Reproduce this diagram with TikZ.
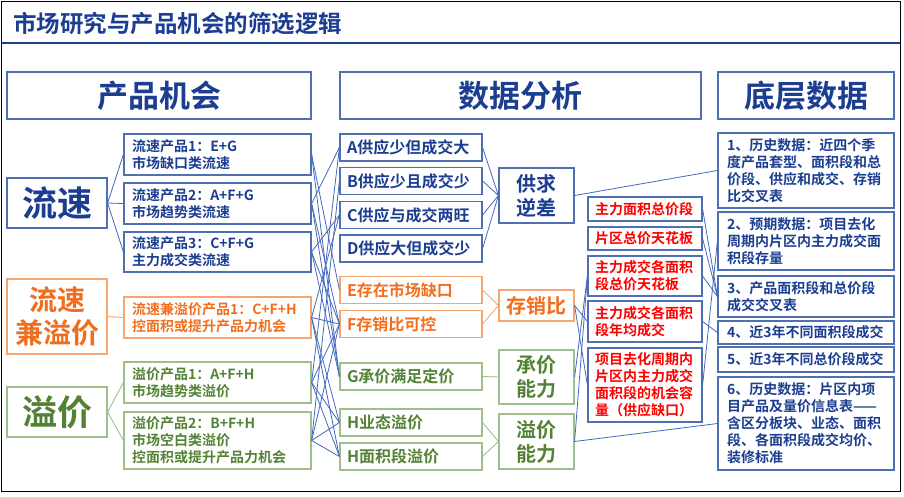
\documentclass[tikz,border=0pt]{standalone}
\usepackage{fontspec}
\setmainfont{Noto Sans CJK SC}[BoldFont={Noto Sans CJK SC Bold}]
\definecolor{dkblue}{RGB}{28,62,145}
\definecolor{boxblue}{RGB}{79,113,180}
\definecolor{lineblue}{RGB}{68,104,190}
\definecolor{orgT}{RGB}{240,110,30}
\definecolor{orgB}{RGB}{245,165,110}
\definecolor{grnT}{RGB}{84,130,53}
\definecolor{grnB}{RGB}{160,190,140}
\definecolor{redT}{RGB}{255,0,0}
\begin{document}
\begin{tikzpicture}[x=1pt,y=-1pt,
  base/.style={line width=1.2pt, inner ysep=0pt, font=\bfseries},
  wh/.style 2 args={minimum width=#1pt, minimum height=#2pt},
  hbox/.style={base, draw=boxblue, text=dkblue, inner xsep=0pt, font=\bfseries\fontsize{31}{34}\selectfont},
  bigblue/.style={base, draw=boxblue, text=dkblue, inner xsep=0pt, font=\bfseries\fontsize{35}{38}\selectfont},
  bigorg/.style={base, draw=orgB, text=orgT, inner xsep=0pt, align=center, font=\bfseries\fontsize{28}{33}\selectfont},
  biggrn/.style={base, draw=grnB, text=grnT, inner xsep=0pt, font=\bfseries\fontsize{35}{38}\selectfont},
  prod/.style={base, inner xsep=8pt, text width=171pt, align=left, font=\bfseries\fontsize{14}{17}\selectfont},
  letter/.style={base, inner xsep=7pt, text width=128pt, align=left, font=\bfseries\fontsize{16}{19}\selectfont},
  grp/.style={base, inner xsep=0pt, align=center, font=\bfseries\fontsize{20}{24}\selectfont},
  redbox/.style={base, draw=boxblue, text=redT, inner xsep=7pt, text width=100pt, align=left, font=\bfseries\fontsize{14}{17}\selectfont},
  datbox/.style={base, draw=boxblue, text=dkblue, inner xsep=9pt, text width=158pt, align=left, font=\bfseries\fontsize{14}{17}\selectfont},
  bl/.style={draw=lineblue, line width=0.8pt},
  ol/.style={draw=orgB, line width=0.9pt},
  gl/.style={draw=grnB, line width=0.9pt}
]
\useasboundingbox (0,0) rectangle (904,496);
\draw[black, line width=1pt] (1.5,1.5) rectangle (900.5,491);
\node[anchor=west, text=dkblue, inner sep=0pt, font=\bfseries\fontsize{23.5}{26}\selectfont] (title) at (13,24) {市场研究与产品机会的筛选逻辑};
\draw[dkblue, line width=2pt] (2,42.5) -- (900,42.5);

% headers
\node[hbox, wh={304}{47}] (h1) at (159,95.5) {产品机会};
\node[hbox, wh={361}{47}] (h2) at (520.5,95.5) {数据分析};
\node[hbox, wh={176}{47}] (h3) at (806,95.5) {底层数据};

% left big boxes
\node[bigblue, wh={100}{50}] (L1) at (57,203) {流速};
\node[bigorg, wh={100}{75}] (L2) at (57,316.5) {流速\\兼溢价};
\node[biggrn, wh={100}{50}] (L3) at (57,412) {溢价};

% products
\node[prod, draw=boxblue, text=dkblue, wh={187}{41}] (P1) at (217.5,154.5) {流速产品1：E+G\\市场缺口类流速};
\node[prod, draw=boxblue, text=dkblue, wh={187}{41}] (P2) at (217.5,203.5) {流速产品2：A+F+G\\市场趋势类流速};
\node[prod, draw=boxblue, text=dkblue, wh={187}{40}] (P3) at (217.5,252) {流速产品3：C+F+G\\主力成交类流速};
\node[prod, draw=orgB, text=orgT, wh={187}{41}] (P4) at (217.5,317.5) {流速兼溢价产品1：C+F+H\\控面积或提升产品力机会};
\node[prod, draw=grnB, text=grnT, wh={187}{41}] (P5) at (217.5,382.5) {溢价产品1：A+F+H\\市场趋势类溢价};
\node[prod, draw=grnB, text=grnT, wh={187}{57}] (P6) at (217.5,440.5) {溢价产品2：B+F+H\\市场空白类溢价\\控面积或提升产品力机会};

% letters
\node[letter, draw=boxblue, text=dkblue, wh={142}{27}] (A) at (411,147.5) {A供应少但成交大};
\node[letter, draw=boxblue, text=dkblue, wh={142}{27}] (B) at (411,181) {B供应少且成交少};
\node[letter, draw=boxblue, text=dkblue, wh={142}{27}] (C) at (411,215) {C供应与成交两旺};
\node[letter, draw=boxblue, text=dkblue, wh={142}{27}] (D) at (411,248.5) {D供应大但成交少};
\node[letter, draw=orgB, text=orgT, wh={142}{27}] (E) at (411,290) {E存在市场缺口};
\node[letter, draw=orgB, text=orgT, wh={142}{27}] (F) at (411,324) {F存销比可控};
\node[letter, draw=grnB, text=grnT, wh={142}{27}] (G) at (411,376.5) {G承价满足定价};
\node[letter, draw=grnB, text=grnT, wh={142}{27}] (H1) at (411,422.5) {H业态溢价};
\node[letter, draw=grnB, text=grnT, wh={142}{27}] (H2) at (411,456.5) {H面积段溢价};

% groups
\node[grp, draw=boxblue, text=dkblue, wh={75}{55}] (S1) at (536.5,195.5) {供求\\逆差};
\node[grp, draw=orgB, text=orgT, wh={75}{31}] (S2) at (536.5,305.5) {存销比};
\node[grp, draw=grnB, text=grnT, wh={75}{54}] (S3) at (536.5,377) {承价\\能力};
\node[grp, draw=grnB, text=grnT, wh={75}{55}] (S4) at (536.5,441.5) {溢价\\能力};

% red boxes
\node[redbox, wh={114}{24}] (R1) at (645,209) {主力面积总价段};
\node[redbox, wh={114}{23}] (R2) at (645,238.5) {片区总价天花板};
\node[redbox, wh={114}{40}] (R3) at (645,276) {主力成交各面积\\段总价天花板};
\node[redbox, wh={114}{41}] (R4) at (645,321.5) {主力成交各面积\\段年均成交};
\node[redbox, wh={114}{74}] (R5) at (645,385) {项目去化周期内\\片区内主力成交\\面积段的机会容\\量（供应缺口）};

% data boxes
\node[datbox, wh={176}{75}] (D1) at (806,170.5) {1、历史数据：近四个季\\度产品套型、面积段和总\\价段、供应和成交、存销\\比交叉表};
\node[datbox, wh={176}{58}] (D2) at (806,241) {2、预期数据：项目去化\\周期内片区内主力成交面\\积段存量};
\node[datbox, wh={176}{41}] (D3) at (806,296.5) {3、产品面积段和总价段\\成交交叉表};
\node[datbox, wh={176}{23}] (D4) at (806,332.5) {4、近3年不同面积段成交};
\node[datbox, wh={176}{25}] (D5) at (806,359.5) {5、近3年不同总价段成交};
\node[datbox, wh={176}{93}] (D6) at (806,423.5) {6、历史数据：片区内项\\目产品及量价信息表——\\含区分板块、业态、面积\\段、各面积段成交均价、\\装修标准};

% left connectors
\foreach \p in {P1,P2,P3} \draw[bl] (L1.east) -- (\p.west);
\draw[ol] (L2.east) -- (P4.west);
\foreach \p in {P5,P6} \draw[gl] (L3.east) -- (\p.west);

% product to letter
\foreach \a/\b in {P1/E,P1/G,P2/A,P2/F,P2/G,P3/C,P3/F,P3/G,P4/C,P4/F,P4/H1,P4/H2,P5/A,P5/F,P5/H1,P5/H2,P6/B,P6/F,P6/H1,P6/H2}
  \draw[bl] (\a.east) -- (\b.west);

% letters to groups
\foreach \a in {A,B,C,D} \draw[bl] (\a.east) -- (S1.west);
\foreach \a in {E,F} \draw[ol] (\a.east) -- (S2.west);
\draw[gl] (G.east) -- (S3.west);
\foreach \a in {H1,H2} \draw[gl] (\a.east) -- (S4.west);

% groups to red / data
\draw[bl] (S1.east) -- (D1.west);
\draw[bl] (S4.east) -- (D6.west);
\draw[bl] (S2.east) -- (R4.west);
\draw[bl] (S2.east) -- (R5.west);
\draw[bl] (S3.east) -- (R3.west);
\draw[bl] (S4.east) -- (R3.west);
\foreach \r in {R1,R2,R3} \draw[bl] (\r.east) -- (D3.west);
\draw[bl] (R4.east) -- (D4.west);
\draw[bl] (R5.east) -- (D2.west);
\end{tikzpicture}
\end{document}
